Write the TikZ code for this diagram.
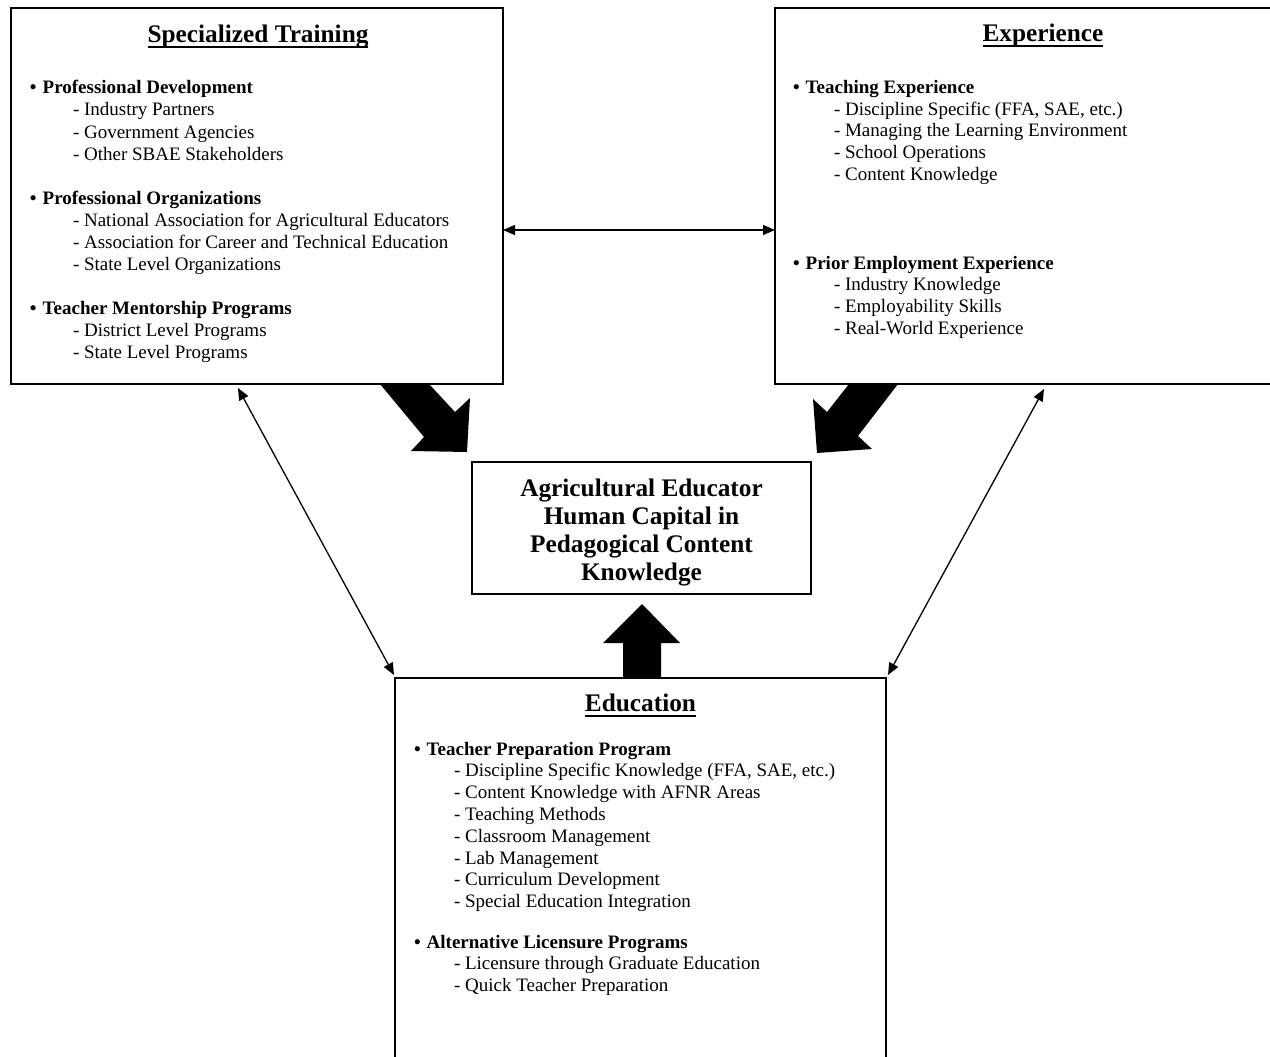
\documentclass[tikz,border=0pt]{standalone}
\usepackage{fontspec}
\setmainfont{Liberation Serif}
\usetikzlibrary{arrows.meta,calc}
\newcommand\bodyfont{\fontsize{19}{22}\selectfont}
\newcommand\ttlfont{\fontsize{25.3}{28}\selectfont\bfseries}
\newcommand\ctrfont{\fontsize{25.3}{28}\selectfont\bfseries}
\newcommand\bul{\makebox[12.7pt][l]{\textbullet}}
\tikzset{
  box/.style={draw, line width=1.6pt, inner sep=0pt, outer sep=0pt},
  item/.style={anchor=base west, inner sep=0pt, outer sep=0pt, font=\bodyfont},
  head/.style={item, font=\bodyfont\bfseries},
  ttl/.style={anchor=base, inner sep=0pt, outer sep=0pt, font=\ttlfont},
  ul/.style={line width=2pt},
  dbl/.style={{Triangle[length=12pt,width=10pt]}-{Triangle[length=12pt,width=10pt]}, line width=1.3pt},
  blk/.style={fill=black, draw=none}
}
\begin{document}
\begin{tikzpicture}[x=1pt,y=-1pt]
\useasboundingbox (0,0) rectangle (1270,1057);
\clip (0,0) rectangle (1270,1057);

% block arrows
\fill[blk] (380,384) -- (424,437) -- (411,451) -- (467,452) -- (470,398) -- (455,412) -- (429,384) -- cycle;
\fill[blk] (849,384) -- (827,412) -- (813,399) -- (817,453) -- (872,449) -- (858,436) -- (898,384) -- cycle;
\fill[blk] (623,678) -- (623,643) -- (603,643) -- (642,604) -- (680,643) -- (661,643) -- (661,678) -- cycle;

% boxes
\node[box, minimum width=492pt, minimum height=376pt] (st) at (257,196) {};
\node[box, minimum width=510pt, minimum height=376pt] (ex) at (1030,196) {};
\node[box, minimum width=339pt, minimum height=132pt] (hc) at (641.5,528) {};
\node[align=center, font=\ctrfont, inner sep=0pt] (hct) at (641.5,533)
  {Agricultural Educator\\Human Capital in\\Pedagogical Content\\Knowledge};
\node[box, minimum width=491pt, minimum height=392pt] (ed) at (640.5,874) {};

% titles
\node[ttl] (stt) at (258,42.5) {Specialized Training};
\node[ttl] (ext) at (1043,41.5) {Experience};
\node[ttl] (edt) at (640.5,711.5) {Education};
\foreach \n in {stt,ext,edt}
  \draw[ul] ([yshift=-4.5pt]\n.base west) -- ([yshift=-4.5pt]\n.base east);

% Specialized Training list
\node[head] (stA) at (30,94) {\bul Professional Development};
\foreach \t [count=\k] in {Industry Partners, Government Agencies, Other SBAE Stakeholders}
  \node[item] (stA\k) at (73,94+22*\k) {- \t};
\node[head] (stB) at (30,204) {\bul Professional Organizations};
\foreach \t [count=\k] in {National Association for Agricultural Educators, Association for Career and Technical Education, State Level Organizations}
  \node[item] (stB\k) at (73,204+22*\k) {- \t};
\node[head] (stC) at (30,314) {\bul Teacher Mentorship Programs};
\foreach \t [count=\k] in {District Level Programs, State Level Programs}
  \node[item] (stC\k) at (73,314+22*\k) {- \t};

% Experience list
\node[head] (exA) at (793,93.5) {\bul Teaching Experience};
\foreach \t [count=\k] in {{Discipline Specific (FFA, SAE, etc.)}, Managing the Learning Environment, School Operations, Content Knowledge}
  \node[item] (exA\k) at (834,93.5+21.7*\k) {- \t};
\node[head] (exB) at (793,269) {\bul Prior Employment Experience};
\foreach \t [count=\k] in {Industry Knowledge, Employability Skills, Real-World Experience}
  \node[item] (exB\k) at (834,269+21.7*\k) {- \t};

% Education list
\node[head] (edA) at (414,755) {\bul Teacher Preparation Program};
\foreach \t [count=\k] in {{Discipline Specific Knowledge (FFA, SAE, etc.)}, Content Knowledge with AFNR Areas, Teaching Methods, Classroom Management, Lab Management, Curriculum Development, Special Education Integration}
  \node[item] (edA\k) at (454,755+21.8*\k) {- \t};
\node[head] (edB) at (414,948) {\bul Alternative Licensure Programs};
\foreach \t [count=\k] in {Licensure through Graduate Education, Quick Teacher Preparation}
  \node[item] (edB\k) at (454,948+21.5*\k) {- \t};

% thin double arrows
\coordinate (hy) at (0,230);
\draw[dbl] (st.east |- hy) -- (ex.west |- hy);
\draw[dbl] ($(st.south west)+(227,4)$) -- ($(ed.north west)+(-1,-3)$);
\draw[dbl] ($(ex.south west)+(269,5)$) -- ($(ed.north east)+(2,-3)$);
\end{tikzpicture}
\end{document}
